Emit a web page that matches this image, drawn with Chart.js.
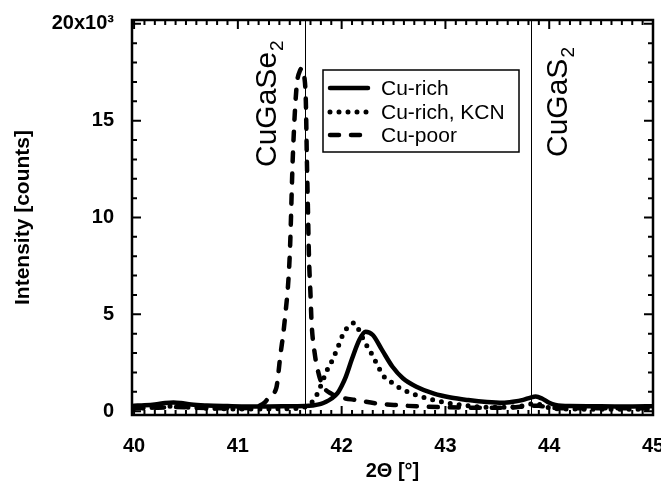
<!DOCTYPE html>
<html>
<head>
<meta charset="utf-8">
<title>XRD CuGa(S,Se)2 (112)</title>
<script src="https://cdn.jsdelivr.net/npm/chart.js@4.4.1/dist/chart.umd.min.js"></script>
<style>
    html, body { margin: 0; padding: 0; background: #fff; }
    #xrdChart { display: block; }
</style>
</head>
<body>
<canvas id="xrdChart" width="661" height="483"></canvas>
<script>
// ===================================
// DATA
// ===================================

const xTicks = [40, 41, 42, 43, 44, 45];
const yTicks = [0, 5000, 10000, 15000, 20000];

const seriesLabels = ['Cu-rich', 'Cu-rich, KCN', 'Cu-poor'];

// Cu-rich absorber
const cuRichAngle = [40.0, 40.1, 40.2, 40.3, 40.38, 40.45, 40.55, 40.7, 40.9, 41.1, 41.3, 41.5, 41.65,
    41.72, 41.8, 41.85, 41.9, 41.96, 42.0, 42.04, 42.1, 42.17, 42.23, 42.3, 42.39, 42.49, 42.59,
    42.72, 42.89, 43.05, 43.22, 43.4, 43.55, 43.65, 43.75, 43.82, 43.87, 43.93, 44.0, 44.06, 44.2,
    44.5, 44.8, 45.0];
const cuRichCounts = [280, 300, 340, 420, 450, 420, 340, 290, 260, 240, 240, 250, 260,
    290, 370, 480, 640, 930, 1300, 1770, 2700, 3670, 4100, 3930, 3150, 2290, 1700,
    1260, 900, 700, 570, 470, 430, 480, 580, 700, 750, 650, 430, 320, 260,
    250, 240, 250];

// Cu-rich absorber after KCN etch
const kcnAngle = [40.0, 40.15, 40.3, 40.4, 40.55, 40.8, 41.1, 41.4, 41.6, 41.68, 41.74, 41.79,
    41.82, 41.86, 41.91, 41.96, 42.01, 42.06, 42.12, 42.17, 42.22, 42.27, 42.32, 42.41, 42.49,
    42.56, 42.72, 42.9, 43.06, 43.25, 43.4, 43.6, 43.75, 43.85, 43.92, 44.0, 44.2, 44.5, 44.8, 45.0];
const kcnCounts = [150, 180, 240, 250, 190, 130, 110, 120, 160, 300, 640, 1190,
    1600, 2120, 2630, 3250, 3930, 4340, 4550, 4150, 3580, 3150, 2630, 1770, 1450,
    1190, 830, 560, 380, 260, 200, 200, 280, 380, 330, 170, 110, 100, 100, 100];

// Cu-poor absorber
const cuPoorAngle = [40.0, 40.2, 40.4, 40.6, 40.9, 41.1, 41.2, 41.26, 41.31, 41.37, 41.41, 41.45,
    41.5, 41.53, 41.565, 41.6, 41.62, 41.64, 41.655, 41.665, 41.675, 41.685, 41.7, 41.71, 41.74,
    41.78, 41.82, 41.9, 42.0, 42.14, 42.32, 42.53, 42.75, 43.0, 43.3, 43.6, 43.8, 43.9, 44.0,
    44.3, 44.6, 45.0];
const cuPoorCounts = [150, 170, 210, 170, 150, 160, 260, 450, 800, 1190, 2900, 4600,
    8060, 13200, 16700, 17600, 17700, 17300, 16000, 13000, 10500, 8000, 6000, 4600, 3000,
    1900, 1300, 900, 700, 570, 410, 310, 240, 200, 180, 180, 260, 280, 170,
    150, 150, 150];

// Reference (112) positions
const refPhases = ['CuGaSe', 'CuGaS'];
const refSubscripts = ['2', '2'];
const refAngles = [41.645, 43.82];

// ===================================
// STYLE
// ===================================

const FONT = '"Liberation Sans", Arial, Helvetica, sans-serif';
const AREA = { left: 132, right: 653, top: 20, bottom: 415 };
const refLabelStyle = [
    { dx: -29, y: 167 },
    { dx: 36, y: 157 }
];
const legendBox = { left: 323, top: 70, width: 196, height: 82, rows: [88, 112, 135] };

function toPoints(xs, ys) {
    return xs.map((x, i) => ({ x: x, y: ys[i] }));
}

// ===================================
// PLUGIN: frame, inward ticks, labels
// ===================================

function minorValues(majors, parts) {
    const out = [];
    for (let i = 0; i < majors.length - 1; i++) {
        const step = (majors[i + 1] - majors[i]) / parts;
        for (let k = 1; k < parts; k++) out.push(majors[i] + k * step);
    }
    return out;
}

const plotDecor = {
    id: 'plotDecor',
    beforeDatasetsDraw(chart) {
        const { ctx, chartArea: a, scales: { x } } = chart;
        ctx.save();
        ctx.strokeStyle = '#000';
        ctx.lineWidth = 1;
        refAngles.forEach(angle => {
            const px = Math.round(x.getPixelForValue(angle)) + 0.5;
            ctx.beginPath();
            ctx.moveTo(px, a.top);
            ctx.lineTo(px, a.bottom);
            ctx.stroke();
        });
        ctx.restore();
    },
    afterDatasetsDraw(chart) {
        const { ctx, chartArea: a, scales: { x, y } } = chart;
        ctx.save();
        ctx.strokeStyle = '#000';
        ctx.lineCap = 'butt';
        ctx.setLineDash([]);

        // ticks on all four sides, pointing inward
        ctx.lineWidth = 2;
        const xMinor = minorValues(xTicks, 10);
        const yMinor = minorValues(yTicks, 5);
        const tickX = (v, len) => {
            const px = x.getPixelForValue(v);
            if (px < a.left || px > a.right) return;
            ctx.beginPath();
            ctx.moveTo(px, a.bottom); ctx.lineTo(px, a.bottom - len);
            ctx.moveTo(px, a.top); ctx.lineTo(px, a.top + len);
            ctx.stroke();
        };
        const tickY = (v, len) => {
            const py = y.getPixelForValue(v);
            ctx.beginPath();
            ctx.moveTo(a.left, py); ctx.lineTo(a.left + len, py);
            ctx.moveTo(a.right, py); ctx.lineTo(a.right - len, py);
            ctx.stroke();
        };
        xMinor.forEach(v => tickX(v, 5));
        xTicks.forEach(v => tickX(v, 9));
        yMinor.forEach(v => tickY(v, 5));
        yTicks.forEach(v => tickY(v, 9));

        // frame
        ctx.lineWidth = 2.5;
        ctx.strokeRect(a.left, a.top, a.right - a.left, a.bottom - a.top);

        // reference phase labels, written upward
        ctx.fillStyle = '#000';
        refPhases.forEach((name, i) => {
            const px = x.getPixelForValue(refAngles[i]) + refLabelStyle[i].dx;
            ctx.save();
            ctx.translate(px, refLabelStyle[i].y);
            ctx.rotate(-Math.PI / 2);
            ctx.textAlign = 'left';
            ctx.textBaseline = 'alphabetic';
            ctx.font = '30px ' + FONT;
            ctx.fillText(name, 0, 0);
            const w = ctx.measureText(name).width;
            ctx.font = '19px ' + FONT;
            ctx.fillText(refSubscripts[i], w + 1, 7);
            ctx.restore();
        });

        // legend
        const b = legendBox;
        ctx.lineWidth = 1.5;
        ctx.strokeRect(b.left, b.top, b.width, b.height);
        chart.data.datasets.forEach((ds, i) => {
            const ry = b.rows[i];
            ctx.save();
            ctx.lineWidth = ds.borderWidth;
            ctx.lineCap = ds.borderCapStyle || 'butt';
            ctx.setLineDash(ds.borderDash || []);
            ctx.beginPath();
            ctx.moveTo(b.left + 7, ry);
            ctx.lineTo(b.left + 45, ry);
            ctx.stroke();
            ctx.restore();
            ctx.font = '21px ' + FONT;
            ctx.textAlign = 'left';
            ctx.textBaseline = 'alphabetic';
            ctx.fillText(ds.label, b.left + 58, ry + 7);
        });
        ctx.restore();
    }
};

// ===================================
// CHART
// ===================================

const ctx = document.getElementById('xrdChart');

new Chart(ctx, {
    type: 'line',
    data: {
        datasets: [
            {
                label: seriesLabels[0],
                data: toPoints(cuRichAngle, cuRichCounts),
                borderColor: '#000',
                borderWidth: 4.5,
                borderCapStyle: 'round',
                borderJoinStyle: 'round'
            },
            {
                label: seriesLabels[1],
                data: toPoints(kcnAngle, kcnCounts),
                borderColor: '#000',
                borderWidth: 5,
                borderDash: [0, 9],
                borderCapStyle: 'round'
            },
            {
                label: seriesLabels[2],
                data: toPoints(cuPoorAngle, cuPoorCounts),
                borderColor: '#000',
                borderWidth: 4.5,
                borderDash: [9, 12],
                borderCapStyle: 'round'
            }
        ]
    },
    options: {
        responsive: false,
        animation: false,
        devicePixelRatio: 1,
        layout: { padding: { top: AREA.top, right: 661 - AREA.right, left: 0, bottom: 0 } },
        elements: {
            point: { radius: 0 },
            line: { cubicInterpolationMode: 'monotone', fill: false }
        },
        plugins: {
            legend: { display: false },
            tooltip: { enabled: false }
        },
        scales: {
            x: {
                type: 'linear',
                min: 39.98,
                max: 45.0,
                grid: { display: false },
                border: { display: false },
                afterBuildTicks: scale => { scale.ticks = xTicks.map(v => ({ value: v })); },
                afterFit: scale => {
                    scale.height = 483 - AREA.bottom;
                    scale.paddingLeft = 0;
                    scale.paddingRight = 0;
                },
                ticks: {
                    color: '#000',
                    padding: 11,
                    maxRotation: 0,
                    autoSkip: false,
                    font: { family: FONT, size: 20, weight: 'bold' }
                },
                title: {
                    display: true,
                    text: '2\u0398 [\u00b0]',
                    color: '#000',
                    padding: { top: 0, bottom: 0 },
                    font: { family: FONT, size: 20, weight: 'bold' }
                }
            },
            y: {
                min: -200,
                max: 20200,
                grid: { display: false },
                border: { display: false },
                afterBuildTicks: scale => { scale.ticks = yTicks.map(v => ({ value: v })); },
                afterFit: scale => {
                    scale.width = AREA.left;
                    scale.paddingTop = 0;
                    scale.paddingBottom = 0;
                },
                ticks: {
                    color: '#000',
                    padding: 10,
                    font: { family: FONT, size: 20, weight: 'bold' },
                    callback: v => (v === 20000 ? '20x10\u00b3' : String(v / 1000))
                },
                title: {
                    display: true,
                    text: 'Intensity [counts]',
                    color: '#000',
                    padding: { top: 11, bottom: 0 },
                    font: { family: FONT, size: 21, weight: 'bold' }
                }
            }
        }
    },
    plugins: [plotDecor]
});
</script>
</body>
</html>
